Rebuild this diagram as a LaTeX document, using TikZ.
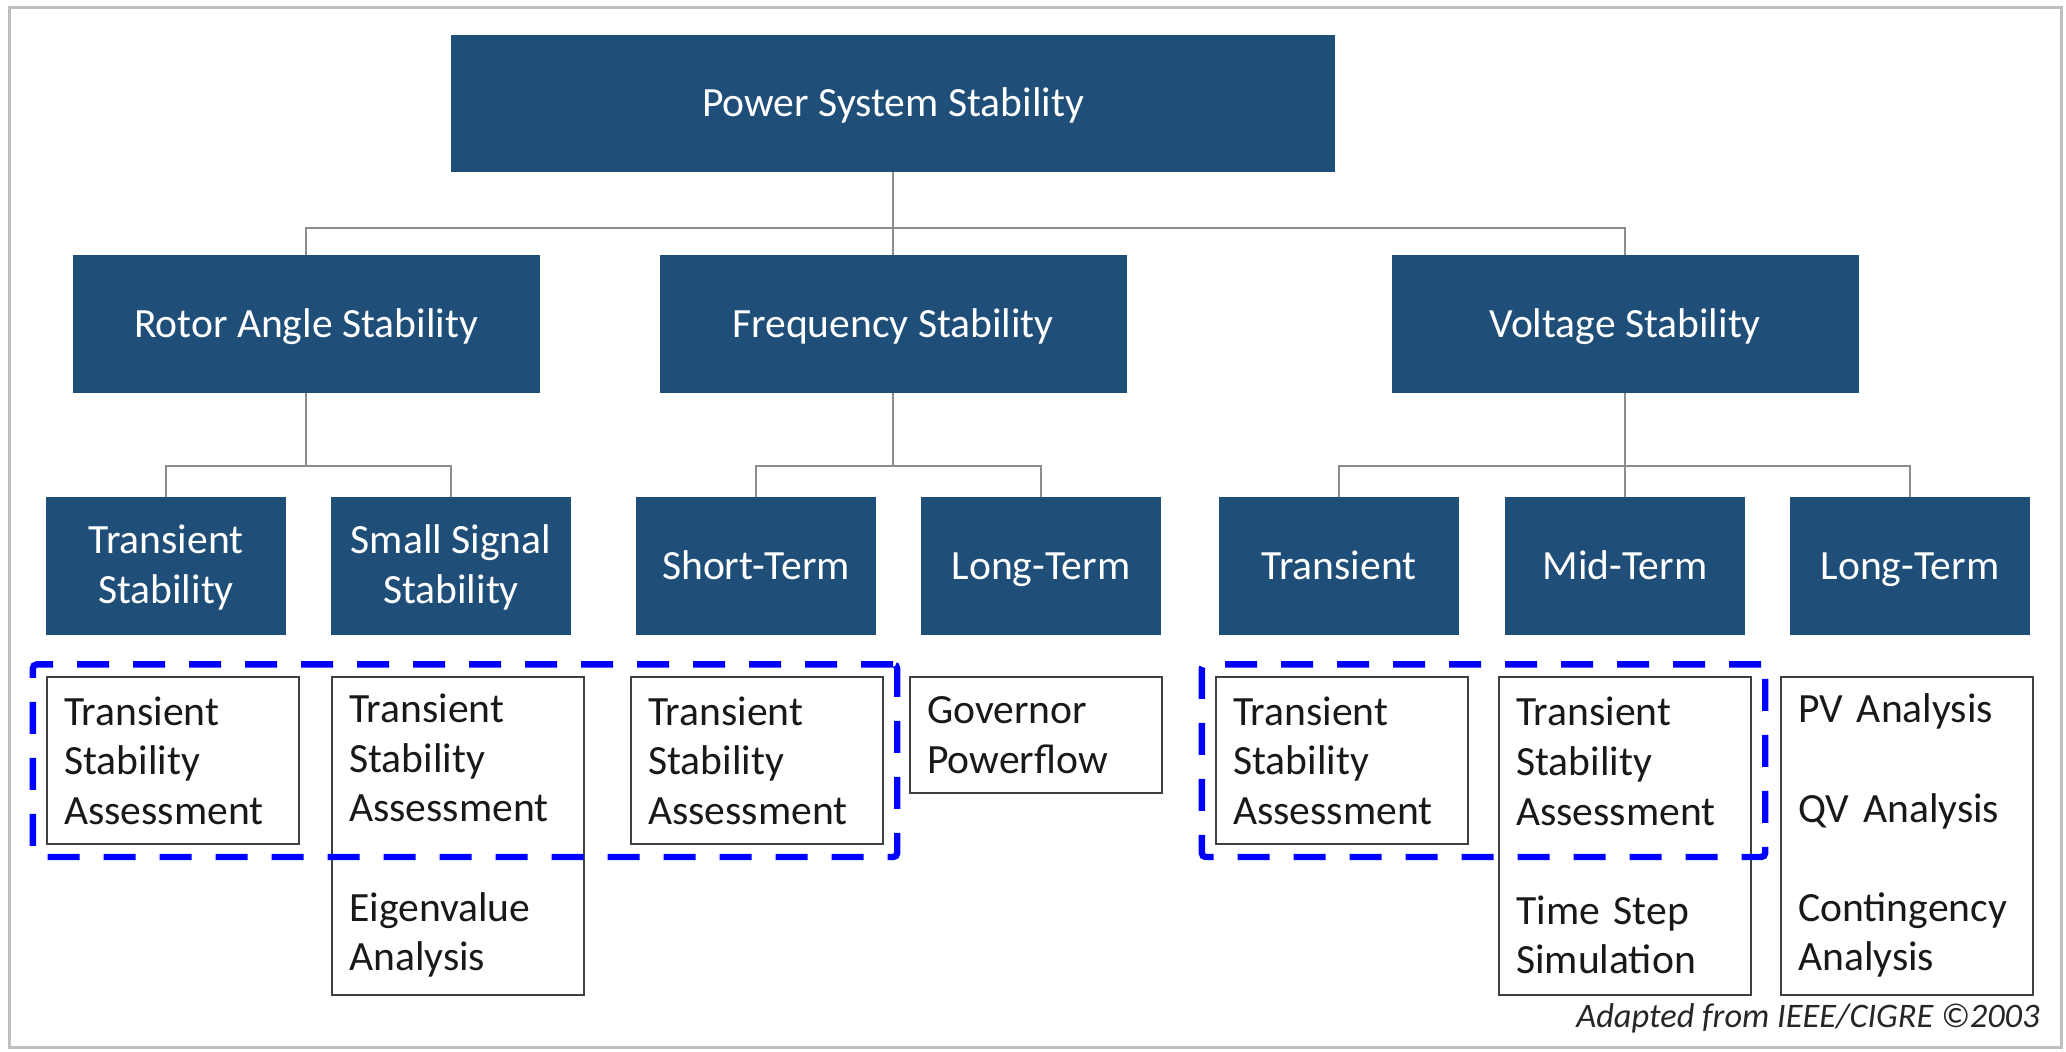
\documentclass[tikz,border=0pt]{standalone}
\usepackage{fontspec}
\setmainfont{Carlito}
\usetikzlibrary{fit}
\definecolor{pssblue}{HTML}{1F4E79}
\definecolor{linegray}{HTML}{8C8C8C}
\definecolor{framegray}{HTML}{BFBFBF}
\newcommand\boxfont{\fontsize{20.8}{24.8}\selectfont}
\tikzset{
  blk/.style = {fill=pssblue, text=white, inner sep=0pt, align=center,
                minimum width=#1, minimum height=69pt, font=\boxfont},
  blk/.default = 120.3pt,
  oneline/.style = {text height=13.6pt, text depth=0.4pt},
  twoline/.style = {text depth=2pt},
  tool/.style = {draw=black!75, line width=1pt, fill=white, anchor=north west,
                 text width=108.8pt, inner xsep=8.6pt, inner ysep=0pt,
                 align=left, minimum height=#1, font=\boxfont, text=black!90},
  tool/.default = 83.7pt,
  link/.style = {draw=linegray, line width=1pt},
  focus/.style = {draw=blue, line width=3.2pt, dash pattern=on 16pt off 12pt,
                  rounded corners=2pt, inner xsep=6.6pt, inner ysep=5.8pt}
}

\begin{document}
\begin{tikzpicture}[x=0.5pt, y=-0.5pt]
	\useasboundingbox (0,0) rectangle (2066,1051);
	\draw[framegray, line width=1.5pt] (9,7) rectangle (2061,1047);

	% Top
	\node[blk=442pt, oneline, minimum height=68.5pt] (pss) at (893,103) {Power System Stability};

	% Categories
	\node[blk=233.5pt, oneline] (rotor) at (306,324)  {Rotor Angle Stability};
	\node[blk=233.5pt, oneline] (freq)  at (893,324)  {Frequency Stability};
	\node[blk=233.5pt, oneline] (volt)  at (1625,324) {Voltage Stability};

	% Sub categories
	\node[blk, twoline] (rts)    at (166,566)  {Transient\\Stability};
	\node[blk, twoline] (sss)    at (451,566)  {Small Signal\\Stability};
	\node[blk, oneline] (fshort) at (756,566)  {Short-Term};
	\node[blk, oneline] (flong)  at (1041,566) {Long-Term};
	\node[blk, oneline] (vtrans) at (1339,566) {Transient};
	\node[blk, oneline] (vmid)   at (1625,566) {Mid-Term};
	\node[blk, oneline] (vlong)  at (1910,566) {Long-Term};

	% Links
	\coordinate (bus1) at (893,228);
	\coordinate (bus2) at (0,466);
	\draw[link] (pss.south) -- (freq.north);
	\draw[link] (rotor.north) |- (bus1) -| (volt.north);
	\draw[link] (rotor.south) -- (rotor.south |- bus2);
	\draw[link] (rts.north) |- (rotor.south |- bus2) -| (sss.north);
	\draw[link] (freq.south) -- (freq.south |- bus2);
	\draw[link] (fshort.north) |- (freq.south |- bus2) -| (flong.north);
	\draw[link] (volt.south) -- (vmid.north);
	\draw[link] (vtrans.north) |- (volt.south |- bus2) -| (vlong.north);

	% Tools
	\node[tool] (rtsa) at (46,676) {Transient\\Stability\\Assessment};
	\node[tool=158.8pt] (sssa) at (331,676) {Transient\\Stability\\Assessment\\[\baselineskip]Eigenvalue\\Analysis};
	\node[tool] (fsa) at (630,676) {Transient\\Stability\\Assessment};
	\node[tool=58pt] (fgov) at (909,676) {Governor\\Powerflow};
	\node[tool] (vtsa) at (1215,676) {Transient\\Stability\\Assessment};
	\node[tool=158.8pt] (vmsa) at (1498,676) {Transient\\Stability\\Assessment\\[\baselineskip]Time Step\\Simulation};
	\node[tool=158.8pt] (vlsa) at (1780,676) {PV Analysis\\[\baselineskip]QV Analysis\\[\baselineskip]Contingency\\Analysis};

	% Transient stability groups
	\node[focus, fit=(rtsa)(fsa)] (grpA) {};
	\node[focus, fit=(vtsa)(vmsa.north east)] (grpB) {};

	\node[anchor=east, inner sep=0pt, text=black!85,
	      font=\fontsize{17.2}{20}\selectfont\itshape] (src) at (2040,1018) {Adapted from IEEE/CIGRE ©2003};
\end{tikzpicture}
\end{document}
